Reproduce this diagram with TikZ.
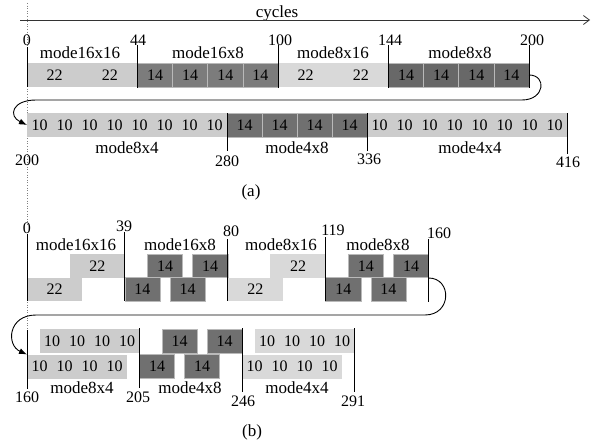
\documentclass[tikz,border=0pt]{standalone}
\usepackage{fontspec}
\setmainfont{Liberation Serif}
\usetikzlibrary{arrows.meta}
\definecolor{ltA}{HTML}{CCCCCC}
\definecolor{ltB}{HTML}{D9D9D9}
\definecolor{dkA}{HTML}{7C7C7C}
\definecolor{dkB}{HTML}{686868}
\definecolor{dkC}{HTML}{707070}
\newcommand{\numfont}{\fontsize{16}{18}\selectfont}
\newcommand{\modefont}{\fontsize{17}{19}\selectfont}
\newcommand{\blk}[8]{%
  \pgfmathsetmacro\bx{#3+#4*(#5)}%
  \pgfmathsetmacro\bw{#4*((#6)-(#5))}%
  \node[#2, minimum width=\bw pt] (#1) at (\bx,#7) {#8};}
\tikzset{
  cbox/.style={inner sep=0pt, outer sep=0pt, minimum height=24pt, anchor=north west, font=\numfont, text=black},
  lt1/.style={cbox, fill=ltA},
  lt2/.style={cbox, fill=ltB},
  dk1/.style={cbox, fill=dkA, draw=gray!55, line width=0.5pt},
  dk2/.style={cbox, fill=dkB, draw=gray!55, line width=0.5pt},
  dk3/.style={cbox, fill=dkC, draw=gray!55, line width=0.5pt},
  short/.style={minimum height=23.5pt},
  num/.style={inner sep=0pt, font=\numfont},
  mlab/.style={inner sep=0pt, font=\modefont},
  tick/.style={line width=0.9pt, black},
  guide/.style={dotted, gray, line width=0.6pt},
  loop/.style={line width=0.9pt, black},
}
\begin{document}
\begin{tikzpicture}[x=1pt,y=-1pt]
\useasboundingbox (0,0) rectangle (594,444);
\fill[white] (0,0) rectangle (594,444);

% guides and time axis
\draw[guide] (27,3) -- (27,226);
\draw[guide] (27,302) -- (27,330);
\node[inner sep=0pt, font=\modefont] (cyc) at (277,13) {cycles};
\coordinate (axs) at (20,20);
\coordinate (axe) at (590,20);
\draw[line width=0.8pt, black!80, -{Straight Barb[length=6pt,width=9pt]}] (axs) -- (axe);

% ---------- (a) row 1 ----------
\blk{a1}{lt1}{27}{2.51}{0}{22}{63}{22}
\blk{a2}{lt1}{27}{2.51}{22}{44}{63}{22}
\blk{a3}{dk1}{27}{2.51}{44}{58}{63}{14}
\blk{a4}{dk1}{27}{2.51}{58}{72}{63}{14}
\blk{a5}{dk1}{27}{2.51}{72}{86}{63}{14}
\blk{a6}{dk1}{27}{2.51}{86}{100}{63}{14}
\blk{a7}{lt2}{27}{2.51}{100}{122}{63}{22}
\blk{a8}{lt2}{27}{2.51}{122}{144}{63}{22}
\blk{a9}{dk2}{27}{2.51}{144}{158}{63}{14}
\blk{a10}{dk2}{27}{2.51}{158}{172}{63}{14}
\blk{a11}{dk2}{27}{2.51}{172}{186}{63}{14}
\blk{a12}{dk2}{27}{2.51}{186}{200}{63}{14}

\node[num] (na0) at (27,40) {0};
\node[num] (na44) at (138,40) {44};
\node[num] (na100) at (280,40) {100};
\node[num] (na144) at (390,40) {144};
\node[num] (na200) at (532,40) {200};
\node[mlab] (ma1) at (80,53) {mode16x16};
\node[mlab] (ma2) at (208,53) {mode16x8};
\node[mlab] (ma3) at (333,53) {mode8x16};
\node[mlab] (ma4) at (460,53) {mode8x8};
\draw[tick] (27,47) -- (27,87);
\draw[tick] (137.44,45) -- (137.44,88);
\draw[tick] (278,45) -- (278,88);
\draw[tick] (388.44,45) -- (388.44,88);
\draw[tick] (529,45) -- (529,88);

% ---------- (a) row 2 ----------
\foreach \k in {0,...,7} {\blk{p\k}{lt1}{-473}{2.5}{200+10*\k}{210+10*\k}{113}{10}}
\foreach \k in {0,...,3} {\blk{q\k}{dk3}{-473}{2.5}{280+14*\k}{294+14*\k}{113}{14}}
\foreach \k in {0,...,7} {\blk{r\k}{lt1}{-473}{2.5}{336+10*\k}{346+10*\k}{113}{10}}

\node[mlab] (ma5) at (127,148) {mode8x4};
\node[mlab] (ma6) at (297,148) {mode4x8};
\node[mlab] (ma7) at (470,148) {mode4x4};
\node[num] (na200b) at (27,160) {200};
\node[num] (na280) at (227,161) {280};
\node[num] (na336) at (369,159) {336};
\node[num] (na416) at (568,162) {416};
\draw[tick] (227,113) -- (227,151);
\draw[tick] (367,113) -- (367,151);
\draw[tick] (567,113) -- (567,154);

% loop (a)
\draw[loop, -{Latex[length=8pt,width=6pt]}]
  (a12.east) .. controls (547,75) and (545,100) .. (522,100)
  -- (36,100) .. controls (12,100) and (8,116) .. (p0.west);

\node[font=\modefont, inner sep=0pt] (capa) at (251,192) {(a)};

% ---------- (b) row 1 ----------
\blk{b1}{lt1,short}{27}{2.51}{17}{39}{254}{22}
\blk{b2}{dk3,short}{27}{2.51}{48}{62}{254}{14}
\blk{b3}{dk3,short}{27}{2.51}{66}{80}{254}{14}
\blk{b4}{lt2,short}{27}{2.51}{97}{119}{254}{22}
\blk{b5}{dk3,short}{27}{2.51}{128}{142}{254}{14}
\blk{b6}{dk3,short}{27}{2.51}{146}{160}{254}{14}
\blk{c1}{lt1,short}{27}{2.51}{0}{22}{277.5}{22}
\blk{c2}{dk3,short}{27}{2.51}{39}{53}{277.5}{14}
\blk{c3}{dk3,short}{27}{2.51}{57}{71}{277.5}{14}
\blk{c4}{lt2,short}{27}{2.51}{80}{102}{277.5}{22}
\blk{c5}{dk3,short}{27}{2.51}{119}{133}{277.5}{14}
\blk{c6}{dk3,short}{27}{2.51}{137}{151}{277.5}{14}

\node[num] (nb0) at (27,228) {0};
\node[num] (nb39) at (124,226) {39};
\node[num] (nb80) at (231,231) {80};
\node[num] (nb119) at (333,230) {119};
\node[num] (nb160) at (439,233) {160};
\node[mlab] (mb1) at (76,245) {mode16x16};
\node[mlab] (mb2) at (180,245) {mode16x8};
\node[mlab] (mb3) at (281,245) {mode8x16};
\node[mlab] (mb4) at (378,245) {mode8x8};
\draw[tick] (27,234) -- (27,301);
\draw[tick] (124.9,232) -- (124.9,301);
\draw[tick] (227.8,239) -- (227.8,301);
\draw[tick] (325.7,237) -- (325.7,301);
\draw[tick] (428.6,239) -- (428.6,302);
\coordinate (lb) at (428.6,278);

% loop (b)
\draw[loop, -{Latex[length=8pt,width=6pt]}]
  (lb) .. controls (452,278) and (452,315) .. (425,315)
  -- (36,315) .. controls (8,315) and (6,345) .. (27,354.5);

% ---------- (b) row 2 ----------
\foreach \k in {0,...,3} {\blk{s\k}{lt1}{-373}{2.5}{165+10*\k}{175+10*\k}{329}{10}}
\blk{s4}{dk3}{-373}{2.5}{214}{228}{329}{14}
\blk{s5}{dk3}{-373}{2.5}{232}{246}{329}{14}
\foreach \k in {0,...,3} {\blk{t\k}{lt2}{-373}{2.5}{251+10*\k}{261+10*\k}{329}{10}}
\foreach \k in {0,...,3} {\blk{u\k}{lt1}{-373}{2.5}{160+10*\k}{170+10*\k}{354.5}{10}}
\blk{u4}{dk3}{-373}{2.5}{205}{219}{354.5}{14}
\blk{u5}{dk3}{-373}{2.5}{223}{237}{354.5}{14}
\foreach \k in {0,...,3} {\blk{v\k}{lt2}{-373}{2.5}{246+10*\k}{256+10*\k}{354.5}{10}}

\node[mlab] (mb5) at (82,388) {mode8x4};
\node[mlab] (mb6) at (190,388) {mode4x8};
\node[mlab] (mb7) at (297,388) {mode4x4};
\node[num] (nb160b) at (27,397) {160};
\node[num] (nb205) at (138,397) {205};
\node[num] (nb246) at (243,401) {246};
\node[num] (nb291) at (353,401) {291};
\draw[tick] (27,330) -- (27,389);
\draw[tick] (139.5,328) -- (139.5,388);
\draw[tick] (242,328) -- (242,392);
\draw[tick] (354.5,328) -- (354.5,392);

\node[font=\modefont, inner sep=0pt] (capb) at (252,432) {(b)};
\end{tikzpicture}
\end{document}
